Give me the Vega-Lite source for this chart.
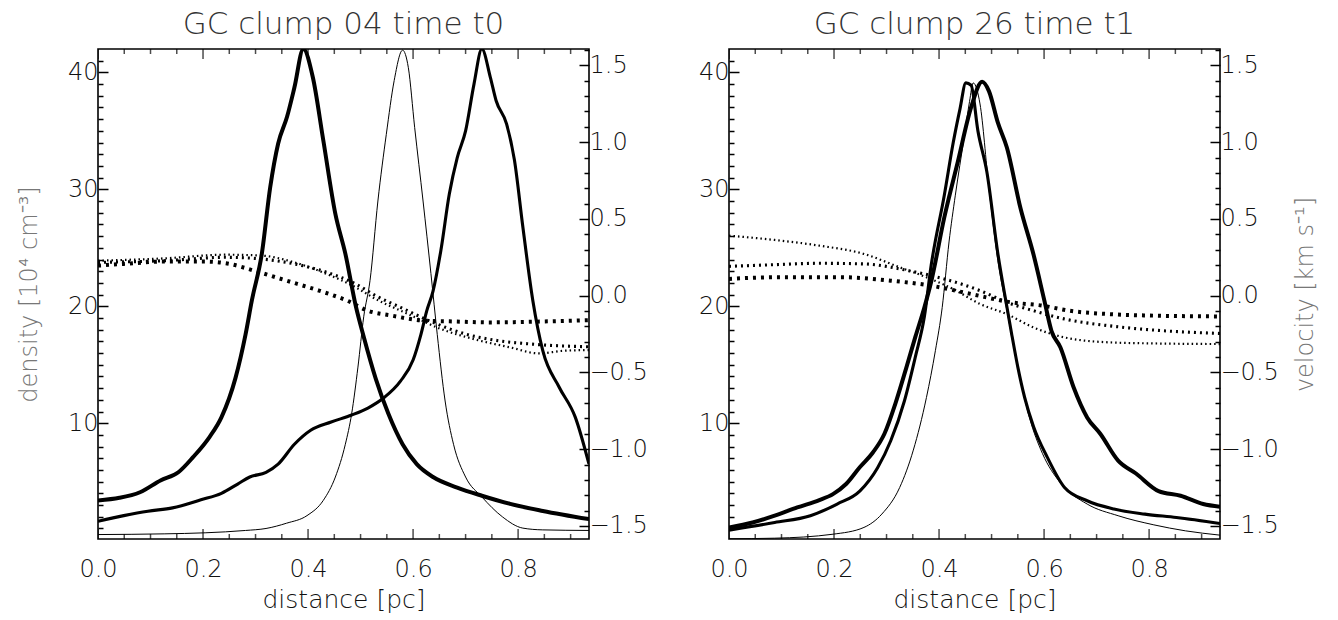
{
  "$schema": "https://vega.github.io/schema/vega-lite/v6.json",
  "padding": {"left": 16, "top": 8, "right": 0, "bottom": 0},
  "background": "white",
  "config": {
    "view": {"stroke": "black", "strokeWidth": 1.6},
    "font": "DejaVu Sans",
    "axis": {"labelFont": "DejaVu Sans", "labelFontWeight": 200, "labelFontSize": 24, "labelColor": "#111", "labelFlush": false, "labelOverlap": false, "titleFont": "DejaVu Sans", "titleFontWeight": 200, "titleFontSize": 24, "titleColor": "#777", "domain": false, "ticks": true, "tickColor": "black", "tickOpacity": 1, "tickWidth": 1.5, "grid": false, "zindex": 1},
    "title": {"font": "DejaVu Sans", "fontWeight": 200, "fontSize": 31, "color": "#333", "offset": 8}
  },
  "datasets": {
    "xticks": [
      {"t":0,"k":"major"},{"t":0.2,"k":"major"},{"t":0.4,"k":"major"},{"t":0.6,"k":"major"},{"t":0.8,"k":"major"},
      {"t":0.05,"k":"minor"},{"t":0.1,"k":"minor"},{"t":0.15,"k":"minor"},{"t":0.25,"k":"minor"},{"t":0.3,"k":"minor"},{"t":0.35,"k":"minor"},{"t":0.45,"k":"minor"},{"t":0.5,"k":"minor"},{"t":0.55,"k":"minor"},{"t":0.65,"k":"minor"},{"t":0.7,"k":"minor"},{"t":0.75,"k":"minor"},{"t":0.85,"k":"minor"},{"t":0.9,"k":"minor"}
    ],
    "dens": [
      {"p":"a","s":"thick","x":0,"d":3.39},{"p":"a","s":"thick","x":0.041,"d":3.62},{"p":"a","s":"thick","x":0.08,"d":4.1},{"p":"a","s":"thick","x":0.119,"d":5.1},{"p":"a","s":"thick","x":0.153,"d":5.81},{"p":"a","s":"thick","x":0.181,"d":7.1},{"p":"a","s":"thick","x":0.212,"d":8.8},{"p":"a","s":"thick","x":0.235,"d":10.5},{"p":"a","s":"thick","x":0.262,"d":13.9},{"p":"a","s":"thick","x":0.281,"d":17.6},{"p":"a","s":"thick","x":0.293,"d":20.5},{"p":"a","s":"thick","x":0.312,"d":24.5},{"p":"a","s":"thick","x":0.328,"d":30.2},{"p":"a","s":"thick","x":0.343,"d":33.9},{"p":"a","s":"thick","x":0.36,"d":36.2},{"p":"a","s":"thick","x":0.374,"d":38.7},{"p":"a","s":"thick","x":0.391,"d":42},{"p":"a","s":"thick","x":0.409,"d":39.6},{"p":"a","s":"thick","x":0.429,"d":34.2},{"p":"a","s":"thick","x":0.452,"d":27.9},{"p":"a","s":"thick","x":0.471,"d":24.5},{"p":"a","s":"thick","x":0.491,"d":20},{"p":"a","s":"thick","x":0.506,"d":17.4},{"p":"a","s":"thick","x":0.529,"d":13.8},{"p":"a","s":"thick","x":0.553,"d":10.8},{"p":"a","s":"thick","x":0.58,"d":8.2},{"p":"a","s":"thick","x":0.607,"d":6.5},{"p":"a","s":"thick","x":0.638,"d":5.4},{"p":"a","s":"thick","x":0.684,"d":4.5},{"p":"a","s":"thick","x":0.731,"d":3.8},{"p":"a","s":"thick","x":0.785,"d":3.1},{"p":"a","s":"thick","x":0.847,"d":2.5},{"p":"a","s":"thick","x":0.935,"d":1.8},
      {"p":"a","s":"medium","x":0,"d":1.62},{"p":"a","s":"medium","x":0.049,"d":2.1},{"p":"a","s":"medium","x":0.095,"d":2.48},{"p":"a","s":"medium","x":0.142,"d":2.76},{"p":"a","s":"medium","x":0.196,"d":3.45},{"p":"a","s":"medium","x":0.235,"d":4.0},{"p":"a","s":"medium","x":0.266,"d":4.8},{"p":"a","s":"medium","x":0.289,"d":5.4},{"p":"a","s":"medium","x":0.32,"d":5.8},{"p":"a","s":"medium","x":0.343,"d":6.5},{"p":"a","s":"medium","x":0.374,"d":8.2},{"p":"a","s":"medium","x":0.405,"d":9.4},{"p":"a","s":"medium","x":0.444,"d":10.1},{"p":"a","s":"medium","x":0.483,"d":10.7},{"p":"a","s":"medium","x":0.514,"d":11.3},{"p":"a","s":"medium","x":0.545,"d":12.2},{"p":"a","s":"medium","x":0.576,"d":13.6},{"p":"a","s":"medium","x":0.6,"d":15.4},{"p":"a","s":"medium","x":0.615,"d":17.6},{"p":"a","s":"medium","x":0.626,"d":19.6},{"p":"a","s":"medium","x":0.638,"d":21.3},{"p":"a","s":"medium","x":0.653,"d":24.8},{"p":"a","s":"medium","x":0.669,"d":29.6},{"p":"a","s":"medium","x":0.684,"d":32.7},{"p":"a","s":"medium","x":0.7,"d":35},{"p":"a","s":"medium","x":0.716,"d":39},{"p":"a","s":"medium","x":0.731,"d":42},{"p":"a","s":"medium","x":0.747,"d":39.6},{"p":"a","s":"medium","x":0.758,"d":37.6},{"p":"a","s":"medium","x":0.778,"d":35.6},{"p":"a","s":"medium","x":0.793,"d":32.5},{"p":"a","s":"medium","x":0.809,"d":26.8},{"p":"a","s":"medium","x":0.828,"d":20.5},{"p":"a","s":"medium","x":0.847,"d":16.2},{"p":"a","s":"medium","x":0.878,"d":13.1},{"p":"a","s":"medium","x":0.909,"d":10.5},{"p":"a","s":"medium","x":0.935,"d":6.5},
      {"p":"a","s":"thin","x":0,"d":0.48},{"p":"a","s":"thin","x":0.126,"d":0.54},{"p":"a","s":"thin","x":0.204,"d":0.63},{"p":"a","s":"thin","x":0.281,"d":0.83},{"p":"a","s":"thin","x":0.32,"d":1.0},{"p":"a","s":"thin","x":0.359,"d":1.45},{"p":"a","s":"thin","x":0.398,"d":2.1},{"p":"a","s":"thin","x":0.429,"d":3.4},{"p":"a","s":"thin","x":0.452,"d":5.4},{"p":"a","s":"thin","x":0.471,"d":8.2},{"p":"a","s":"thin","x":0.483,"d":10.8},{"p":"a","s":"thin","x":0.495,"d":14.8},{"p":"a","s":"thin","x":0.506,"d":19.1},{"p":"a","s":"thin","x":0.518,"d":22.2},{"p":"a","s":"thin","x":0.533,"d":29},{"p":"a","s":"thin","x":0.549,"d":34.7},{"p":"a","s":"thin","x":0.564,"d":39.3},{"p":"a","s":"thin","x":0.58,"d":41.9},{"p":"a","s":"thin","x":0.591,"d":40.4},{"p":"a","s":"thin","x":0.603,"d":35.3},{"p":"a","s":"thin","x":0.619,"d":29},{"p":"a","s":"thin","x":0.634,"d":22.8},{"p":"a","s":"thin","x":0.646,"d":17.6},{"p":"a","s":"thin","x":0.661,"d":11.9},{"p":"a","s":"thin","x":0.677,"d":8.2},{"p":"a","s":"thin","x":0.7,"d":5.4},{"p":"a","s":"thin","x":0.731,"d":3.7},{"p":"a","s":"thin","x":0.77,"d":2.0},{"p":"a","s":"thin","x":0.809,"d":1.03},{"p":"a","s":"thin","x":0.847,"d":0.88},{"p":"a","s":"thin","x":0.935,"d":0.83},
      {"p":"b","s":"thick","x":0,"d":1.09},{"p":"b","s":"thick","x":0.045,"d":1.51},{"p":"b","s":"thick","x":0.087,"d":2.09},{"p":"b","s":"thick","x":0.13,"d":2.8},{"p":"b","s":"thick","x":0.172,"d":3.43},{"p":"b","s":"thick","x":0.198,"d":3.94},{"p":"b","s":"thick","x":0.223,"d":4.8},{"p":"b","s":"thick","x":0.249,"d":6.23},{"p":"b","s":"thick","x":0.274,"d":7.5},{"p":"b","s":"thick","x":0.296,"d":9.1},{"p":"b","s":"thick","x":0.317,"d":11.7},{"p":"b","s":"thick","x":0.338,"d":14.8},{"p":"b","s":"thick","x":0.355,"d":17.4},{"p":"b","s":"thick","x":0.372,"d":19.9},{"p":"b","s":"thick","x":0.385,"d":22.1},{"p":"b","s":"thick","x":0.41,"d":27.6},{"p":"b","s":"thick","x":0.436,"d":32.4},{"p":"b","s":"thick","x":0.461,"d":37},{"p":"b","s":"thick","x":0.482,"d":39.2},{"p":"b","s":"thick","x":0.495,"d":38.4},{"p":"b","s":"thick","x":0.512,"d":35.7},{"p":"b","s":"thick","x":0.529,"d":33.6},{"p":"b","s":"thick","x":0.555,"d":28.4},{"p":"b","s":"thick","x":0.58,"d":24.4},{"p":"b","s":"thick","x":0.601,"d":20.4},{"p":"b","s":"thick","x":0.614,"d":17.9},{"p":"b","s":"thick","x":0.631,"d":16.5},{"p":"b","s":"thick","x":0.656,"d":13.1},{"p":"b","s":"thick","x":0.682,"d":10.5},{"p":"b","s":"thick","x":0.707,"d":9.1},{"p":"b","s":"thick","x":0.741,"d":6.8},{"p":"b","s":"thick","x":0.775,"d":5.7},{"p":"b","s":"thick","x":0.818,"d":4.2},{"p":"b","s":"thick","x":0.86,"d":3.8},{"p":"b","s":"thick","x":0.903,"d":3.09},{"p":"b","s":"thick","x":0.935,"d":2.86},
      {"p":"b","s":"medium","x":0,"d":0.86},{"p":"b","s":"medium","x":0.087,"d":1.51},{"p":"b","s":"medium","x":0.155,"d":2.09},{"p":"b","s":"medium","x":0.206,"d":3.09},{"p":"b","s":"medium","x":0.249,"d":4.2},{"p":"b","s":"medium","x":0.283,"d":6.2},{"p":"b","s":"medium","x":0.308,"d":8.5},{"p":"b","s":"medium","x":0.334,"d":11.9},{"p":"b","s":"medium","x":0.355,"d":15.7},{"p":"b","s":"medium","x":0.372,"d":19.1},{"p":"b","s":"medium","x":0.385,"d":23.5},{"p":"b","s":"medium","x":0.41,"d":29.5},{"p":"b","s":"medium","x":0.427,"d":34},{"p":"b","s":"medium","x":0.44,"d":36.9},{"p":"b","s":"medium","x":0.451,"d":39.1},{"p":"b","s":"medium","x":0.461,"d":38.9},{"p":"b","s":"medium","x":0.474,"d":35},{"p":"b","s":"medium","x":0.491,"d":31.5},{"p":"b","s":"medium","x":0.512,"d":24.5},{"p":"b","s":"medium","x":0.529,"d":20},{"p":"b","s":"medium","x":0.538,"d":17.7},{"p":"b","s":"medium","x":0.55,"d":14.8},{"p":"b","s":"medium","x":0.563,"d":12.2},{"p":"b","s":"medium","x":0.58,"d":9.7},{"p":"b","s":"medium","x":0.606,"d":7.1},{"p":"b","s":"medium","x":0.639,"d":4.5},{"p":"b","s":"medium","x":0.682,"d":3.37},{"p":"b","s":"medium","x":0.733,"d":2.66},{"p":"b","s":"medium","x":0.792,"d":2.23},{"p":"b","s":"medium","x":0.852,"d":1.94},{"p":"b","s":"medium","x":0.935,"d":1.43},
      {"p":"b","s":"thin","x":0,"d":0.12},{"p":"b","s":"thin","x":0.087,"d":0.17},{"p":"b","s":"thin","x":0.198,"d":0.51},{"p":"b","s":"thin","x":0.257,"d":1.09},{"p":"b","s":"thin","x":0.291,"d":2.23},{"p":"b","s":"thin","x":0.325,"d":4.5},{"p":"b","s":"thin","x":0.351,"d":7.7},{"p":"b","s":"thin","x":0.376,"d":12.2},{"p":"b","s":"thin","x":0.393,"d":16.2},{"p":"b","s":"thin","x":0.406,"d":19.9},{"p":"b","s":"thin","x":0.419,"d":25.5},{"p":"b","s":"thin","x":0.431,"d":29.5},{"p":"b","s":"thin","x":0.448,"d":34.5},{"p":"b","s":"thin","x":0.458,"d":37.5},{"p":"b","s":"thin","x":0.465,"d":39.1},{"p":"b","s":"thin","x":0.478,"d":37.3},{"p":"b","s":"thin","x":0.495,"d":30.1},{"p":"b","s":"thin","x":0.512,"d":23.9},{"p":"b","s":"thin","x":0.529,"d":19.7},{"p":"b","s":"thin","x":0.55,"d":14.8},{"p":"b","s":"thin","x":0.572,"d":10.5},{"p":"b","s":"thin","x":0.597,"d":7.4},{"p":"b","s":"thin","x":0.631,"d":4.9},{"p":"b","s":"thin","x":0.682,"d":3.09},{"p":"b","s":"thin","x":0.741,"d":2.09},{"p":"b","s":"thin","x":0.809,"d":1.31},{"p":"b","s":"thin","x":0.869,"d":0.8},{"p":"b","s":"thin","x":0.935,"d":0.43}
    ],
    "vel": [
      {"p":"a","s":"thick","x":0,"v":0.196},{"p":"a","s":"thick","x":0.049,"v":0.207},{"p":"a","s":"thick","x":0.126,"v":0.222},{"p":"a","s":"thick","x":0.204,"v":0.222},{"p":"a","s":"thick","x":0.25,"v":0.207},{"p":"a","s":"thick","x":0.297,"v":0.163},{"p":"a","s":"thick","x":0.359,"v":0.098},{"p":"a","s":"thick","x":0.421,"v":0.033},{"p":"a","s":"thick","x":0.475,"v":-0.033},{"p":"a","s":"thick","x":0.514,"v":-0.098},{"p":"a","s":"thick","x":0.56,"v":-0.13},{"p":"a","s":"thick","x":0.622,"v":-0.163},{"p":"a","s":"thick","x":0.669,"v":-0.167},{"p":"a","s":"thick","x":0.747,"v":-0.174},{"p":"a","s":"thick","x":0.824,"v":-0.17},{"p":"a","s":"thick","x":0.935,"v":-0.159},
      {"p":"a","s":"medium","x":0,"v":0.217},{"p":"a","s":"medium","x":0.126,"v":0.228},{"p":"a","s":"medium","x":0.243,"v":0.25},{"p":"a","s":"medium","x":0.312,"v":0.239},{"p":"a","s":"medium","x":0.374,"v":0.207},{"p":"a","s":"medium","x":0.436,"v":0.152},{"p":"a","s":"medium","x":0.491,"v":0.076},{"p":"a","s":"medium","x":0.529,"v":0},{"p":"a","s":"medium","x":0.576,"v":-0.076},{"p":"a","s":"medium","x":0.638,"v":-0.174},{"p":"a","s":"medium","x":0.7,"v":-0.25},{"p":"a","s":"medium","x":0.762,"v":-0.293},{"p":"a","s":"medium","x":0.824,"v":-0.315},{"p":"a","s":"medium","x":0.935,"v":-0.333},
      {"p":"a","s":"thin","x":0,"v":0.228},{"p":"a","s":"thin","x":0.126,"v":0.243},{"p":"a","s":"thin","x":0.243,"v":0.267},{"p":"a","s":"thin","x":0.312,"v":0.261},{"p":"a","s":"thin","x":0.374,"v":0.217},{"p":"a","s":"thin","x":0.436,"v":0.141},{"p":"a","s":"thin","x":0.491,"v":0.054},{"p":"a","s":"thin","x":0.529,"v":-0.022},{"p":"a","s":"thin","x":0.591,"v":-0.12},{"p":"a","s":"thin","x":0.653,"v":-0.217},{"p":"a","s":"thin","x":0.716,"v":-0.283},{"p":"a","s":"thin","x":0.785,"v":-0.337},{"p":"a","s":"thin","x":0.84,"v":-0.376},{"p":"a","s":"thin","x":0.886,"v":-0.359},{"p":"a","s":"thin","x":0.935,"v":-0.354},
      {"p":"b","s":"thick","x":0,"v":0.109},{"p":"b","s":"thick","x":0.087,"v":0.12},{"p":"b","s":"thick","x":0.215,"v":0.12},{"p":"b","s":"thick","x":0.308,"v":0.098},{"p":"b","s":"thick","x":0.385,"v":0.065},{"p":"b","s":"thick","x":0.461,"v":0.011},{"p":"b","s":"thick","x":0.537,"v":-0.043},{"p":"b","s":"thick","x":0.597,"v":-0.065},{"p":"b","s":"thick","x":0.648,"v":-0.098},{"p":"b","s":"thick","x":0.724,"v":-0.12},{"p":"b","s":"thick","x":0.809,"v":-0.13},{"p":"b","s":"thick","x":0.935,"v":-0.135},
      {"p":"b","s":"medium","x":0,"v":0.191},{"p":"b","s":"medium","x":0.087,"v":0.202},{"p":"b","s":"medium","x":0.172,"v":0.211},{"p":"b","s":"medium","x":0.257,"v":0.207},{"p":"b","s":"medium","x":0.342,"v":0.163},{"p":"b","s":"medium","x":0.41,"v":0.109},{"p":"b","s":"medium","x":0.478,"v":0.033},{"p":"b","s":"medium","x":0.529,"v":-0.043},{"p":"b","s":"medium","x":0.58,"v":-0.098},{"p":"b","s":"medium","x":0.639,"v":-0.152},{"p":"b","s":"medium","x":0.724,"v":-0.196},{"p":"b","s":"medium","x":0.809,"v":-0.224},{"p":"b","s":"medium","x":0.935,"v":-0.246},
      {"p":"b","s":"thin","x":0,"v":0.391},{"p":"b","s":"thin","x":0.087,"v":0.363},{"p":"b","s":"thin","x":0.172,"v":0.326},{"p":"b","s":"thin","x":0.257,"v":0.272},{"p":"b","s":"thin","x":0.325,"v":0.185},{"p":"b","s":"thin","x":0.376,"v":0.12},{"p":"b","s":"thin","x":0.427,"v":0.043},{"p":"b","s":"thin","x":0.478,"v":-0.054},{"p":"b","s":"thin","x":0.529,"v":-0.12},{"p":"b","s":"thin","x":0.58,"v":-0.207},{"p":"b","s":"thin","x":0.639,"v":-0.272},{"p":"b","s":"thin","x":0.724,"v":-0.304},{"p":"b","s":"thin","x":0.809,"v":-0.311},{"p":"b","s":"thin","x":0.935,"v":-0.315}
    ]
  },
  "spacing": 140,
  "bounds": "flush",
  "hconcat": [
    {
      "title": {"text": "GC clump 04 time t0"},
      "width": 491, "height": 490,
      "resolve": {"scale": {"y": "independent"}, "axis": {"x": "independent", "y": "independent"}},
      "layer": [
        {
          "data": {"name": "xticks"},
          "transform": [{"filter": "datum.k === 'major'"}],
          "mark": {"type": "tick", "orient": "vertical", "color": "black", "size": 20, "thickness": 1.5, "clip": true},
          "encoding": {
            "x": {"field": "t", "type": "quantitative", "scale": {"domain": [0, 0.935], "nice": false, "zero": false}, "axis": null},
            "y": {"datum": 0.1, "type": "quantitative", "scale": {"domain": [0.1, 42], "nice": false, "zero": false}, "axis": null}
          }
        },
        {
          "data": {"name": "xticks"},
          "transform": [{"filter": "datum.k === 'major'"}],
          "mark": {"type": "tick", "orient": "vertical", "color": "black", "size": 20, "thickness": 1.5, "clip": true},
          "encoding": {
            "x": {"field": "t", "type": "quantitative", "scale": {"domain": [0, 0.935], "nice": false, "zero": false}, "axis": null},
            "y": {"datum": 42, "type": "quantitative", "scale": {"domain": [0.1, 42], "nice": false, "zero": false}, "axis": null}
          }
        },
        {
          "data": {"name": "xticks"},
          "transform": [{"filter": "datum.k === 'minor'"}],
          "mark": {"type": "tick", "orient": "vertical", "color": "black", "size": 10, "thickness": 1.5, "clip": true},
          "encoding": {
            "x": {"field": "t", "type": "quantitative", "scale": {"domain": [0, 0.935], "nice": false, "zero": false}, "axis": null},
            "y": {"datum": 0.1, "type": "quantitative", "scale": {"domain": [0.1, 42], "nice": false, "zero": false}, "axis": null}
          }
        },
        {
          "data": {"name": "xticks"},
          "transform": [{"filter": "datum.k === 'minor'"}],
          "mark": {"type": "tick", "orient": "vertical", "color": "black", "size": 10, "thickness": 1.5, "clip": true},
          "encoding": {
            "x": {"field": "t", "type": "quantitative", "scale": {"domain": [0, 0.935], "nice": false, "zero": false}, "axis": null},
            "y": {"datum": 42, "type": "quantitative", "scale": {"domain": [0.1, 42], "nice": false, "zero": false}, "axis": null}
          }
        },
        {
          "data": {"name": "dens"},
          "transform": [{"filter": "datum.p === 'a' && datum.s !== 'thin'"}],
          "mark": {"type": "line", "color": "black", "clip": true, "interpolate": "monotone"},
          "encoding": {
            "x": {"field": "x", "type": "quantitative", "scale": {"domain": [0, 0.935], "nice": false, "zero": false},
                  "axis": {"orient": "bottom", "values": [0, 0.2, 0.4, 0.6, 0.8], "format": ".1f", "title": "distance [pc]", "titleColor": "#111", "titleFontSize": 25, "ticks": false, "labelPadding": 18, "titlePadding": 6}},
            "y": {"field": "d", "type": "quantitative", "scale": {"domain": [0.1, 42], "nice": false, "zero": false},
                  "axis": {"orient": "left", "values": [10, 20, 30, 40], "title": "density [10⁴ cm⁻³]", "offset": -10, "tickSize": 10, "labelPadding": 0, "titlePadding": 26}},
            "detail": {"field": "s"},
            "strokeWidth": {"field": "s", "type": "nominal", "scale": {"domain": ["thick", "medium", "thin"], "range": [4, 2.2, 1]}, "legend": null}
          }
        },
        {
          "data": {"name": "dens"},
          "transform": [{"filter": "datum.p === 'a' && datum.s === 'thin'"}],
          "mark": {"type": "line", "color": "black", "strokeWidth": 1, "clip": true, "interpolate": "monotone"},
          "encoding": {
            "x": {"field": "x", "type": "quantitative", "scale": {"domain": [0, 0.935], "nice": false, "zero": false}, "axis": null},
            "y": {"field": "d", "type": "quantitative", "scale": {"domain": [0.1, 42], "nice": false, "zero": false},
                  "axis": {"orient": "left", "values": [1,2,3,4,5,6,7,8,9,11,12,13,14,15,16,17,18,19,21,22,23,24,25,26,27,28,29,31,32,33,34,35,36,37,38,39,41], "labels": false, "title": null, "offset": -5, "tickSize": 5}}
          }
        },
        {
          "data": {"name": "vel"},
          "transform": [{"filter": "datum.p === 'a'"}],
          "mark": {"type": "line", "color": "black", "clip": true, "interpolate": "monotone"},
          "encoding": {
            "x": {"field": "x", "type": "quantitative", "scale": {"domain": [0, 0.935], "nice": false, "zero": false}, "axis": null},
            "y": {"field": "v", "type": "quantitative", "scale": {"domain": [-1.585, 1.607], "nice": false, "zero": false},
                  "axis": {"orient": "right", "values": [-1.5, -1, -0.5, 0, 0.5, 1, 1.5], "format": ".1f", "title": null, "offset": -10, "tickSize": 10, "labelPadding": 0}},
            "detail": {"field": "s"},
            "strokeWidth": {"field": "s", "type": "nominal", "scale": {"domain": ["thick", "medium", "thin"], "range": [4, 2.2, 1]}, "legend": null},
            "strokeDash": {"field": "s", "type": "nominal", "scale": {"domain": ["thick", "medium", "thin"], "range": [[3, 5], [2, 4], [1.5, 3]]}, "legend": null}
          }
        },
        {
          "data": {"name": "vel"},
          "transform": [{"filter": "datum.p === 'a' && datum.s === 'thin'"}],
          "mark": {"type": "line", "color": "black", "strokeWidth": 0, "opacity": 0},
          "encoding": {
            "x": {"field": "x", "type": "quantitative", "scale": {"domain": [0, 0.935], "nice": false, "zero": false}, "axis": null},
            "y": {"field": "v", "type": "quantitative", "scale": {"domain": [-1.585, 1.607], "nice": false, "zero": false},
                  "axis": {"orient": "right", "values": [-1.4,-1.3,-1.2,-1.1,-0.9,-0.8,-0.7,-0.6,-0.4,-0.3,-0.2,-0.1,0.1,0.2,0.3,0.4,0.6,0.7,0.8,0.9,1.1,1.2,1.3,1.4,1.6], "labels": false, "title": null, "offset": -5, "tickSize": 5}}
          }
        }
      ]
    },
    {
      "title": {"text": "GC clump 26 time t1"},
      "width": 491, "height": 490,
      "resolve": {"scale": {"y": "independent"}, "axis": {"x": "independent", "y": "independent"}},
      "layer": [
        {
          "data": {"name": "xticks"},
          "transform": [{"filter": "datum.k === 'major'"}],
          "mark": {"type": "tick", "orient": "vertical", "color": "black", "size": 20, "thickness": 1.5, "clip": true},
          "encoding": {
            "x": {"field": "t", "type": "quantitative", "scale": {"domain": [0, 0.935], "nice": false, "zero": false}, "axis": null},
            "y": {"datum": 0.1, "type": "quantitative", "scale": {"domain": [0.1, 42], "nice": false, "zero": false}, "axis": null}
          }
        },
        {
          "data": {"name": "xticks"},
          "transform": [{"filter": "datum.k === 'major'"}],
          "mark": {"type": "tick", "orient": "vertical", "color": "black", "size": 20, "thickness": 1.5, "clip": true},
          "encoding": {
            "x": {"field": "t", "type": "quantitative", "scale": {"domain": [0, 0.935], "nice": false, "zero": false}, "axis": null},
            "y": {"datum": 42, "type": "quantitative", "scale": {"domain": [0.1, 42], "nice": false, "zero": false}, "axis": null}
          }
        },
        {
          "data": {"name": "xticks"},
          "transform": [{"filter": "datum.k === 'minor'"}],
          "mark": {"type": "tick", "orient": "vertical", "color": "black", "size": 10, "thickness": 1.5, "clip": true},
          "encoding": {
            "x": {"field": "t", "type": "quantitative", "scale": {"domain": [0, 0.935], "nice": false, "zero": false}, "axis": null},
            "y": {"datum": 0.1, "type": "quantitative", "scale": {"domain": [0.1, 42], "nice": false, "zero": false}, "axis": null}
          }
        },
        {
          "data": {"name": "xticks"},
          "transform": [{"filter": "datum.k === 'minor'"}],
          "mark": {"type": "tick", "orient": "vertical", "color": "black", "size": 10, "thickness": 1.5, "clip": true},
          "encoding": {
            "x": {"field": "t", "type": "quantitative", "scale": {"domain": [0, 0.935], "nice": false, "zero": false}, "axis": null},
            "y": {"datum": 42, "type": "quantitative", "scale": {"domain": [0.1, 42], "nice": false, "zero": false}, "axis": null}
          }
        },
        {
          "data": {"name": "dens"},
          "transform": [{"filter": "datum.p === 'b' && datum.s !== 'thin'"}],
          "mark": {"type": "line", "color": "black", "clip": true, "interpolate": "monotone"},
          "encoding": {
            "x": {"field": "x", "type": "quantitative", "scale": {"domain": [0, 0.935], "nice": false, "zero": false},
                  "axis": {"orient": "bottom", "values": [0, 0.2, 0.4, 0.6, 0.8], "format": ".1f", "title": "distance [pc]", "titleColor": "#111", "titleFontSize": 25, "ticks": false, "labelPadding": 18, "titlePadding": 6}},
            "y": {"field": "d", "type": "quantitative", "scale": {"domain": [0.1, 42], "nice": false, "zero": false},
                  "axis": {"orient": "left", "values": [10, 20, 30, 40], "title": null, "offset": -10, "tickSize": 10, "labelPadding": 0}},
            "detail": {"field": "s"},
            "strokeWidth": {"field": "s", "type": "nominal", "scale": {"domain": ["thick", "medium", "thin"], "range": [4, 2.2, 1]}, "legend": null}
          }
        },
        {
          "data": {"name": "dens"},
          "transform": [{"filter": "datum.p === 'b' && datum.s === 'thin'"}],
          "mark": {"type": "line", "color": "black", "strokeWidth": 1, "clip": true, "interpolate": "monotone"},
          "encoding": {
            "x": {"field": "x", "type": "quantitative", "scale": {"domain": [0, 0.935], "nice": false, "zero": false}, "axis": null},
            "y": {"field": "d", "type": "quantitative", "scale": {"domain": [0.1, 42], "nice": false, "zero": false},
                  "axis": {"orient": "left", "values": [1,2,3,4,5,6,7,8,9,11,12,13,14,15,16,17,18,19,21,22,23,24,25,26,27,28,29,31,32,33,34,35,36,37,38,39,41], "labels": false, "title": null, "offset": -5, "tickSize": 5}}
          }
        },
        {
          "data": {"name": "vel"},
          "transform": [{"filter": "datum.p === 'b'"}],
          "mark": {"type": "line", "color": "black", "clip": true, "interpolate": "monotone"},
          "encoding": {
            "x": {"field": "x", "type": "quantitative", "scale": {"domain": [0, 0.935], "nice": false, "zero": false}, "axis": null},
            "y": {"field": "v", "type": "quantitative", "scale": {"domain": [-1.585, 1.607], "nice": false, "zero": false},
                  "axis": {"orient": "right", "values": [-1.5, -1, -0.5, 0, 0.5, 1, 1.5], "format": ".1f", "title": "velocity [km s⁻¹]", "titleAngle": 270, "titleBaseline": "top", "titlePadding": 15, "offset": -10, "tickSize": 10, "labelPadding": 0}},
            "detail": {"field": "s"},
            "strokeWidth": {"field": "s", "type": "nominal", "scale": {"domain": ["thick", "medium", "thin"], "range": [4, 2.2, 1]}, "legend": null},
            "strokeDash": {"field": "s", "type": "nominal", "scale": {"domain": ["thick", "medium", "thin"], "range": [[3, 5], [2, 4], [1.5, 3]]}, "legend": null}
          }
        },
        {
          "data": {"name": "vel"},
          "transform": [{"filter": "datum.p === 'b' && datum.s === 'thin'"}],
          "mark": {"type": "line", "color": "black", "strokeWidth": 0, "opacity": 0},
          "encoding": {
            "x": {"field": "x", "type": "quantitative", "scale": {"domain": [0, 0.935], "nice": false, "zero": false}, "axis": null},
            "y": {"field": "v", "type": "quantitative", "scale": {"domain": [-1.585, 1.607], "nice": false, "zero": false},
                  "axis": {"orient": "right", "values": [-1.4,-1.3,-1.2,-1.1,-0.9,-0.8,-0.7,-0.6,-0.4,-0.3,-0.2,-0.1,0.1,0.2,0.3,0.4,0.6,0.7,0.8,0.9,1.1,1.2,1.3,1.4,1.6], "labels": false, "title": null, "offset": -5, "tickSize": 5}}
          }
        }
      ]
    }
  ]
}
